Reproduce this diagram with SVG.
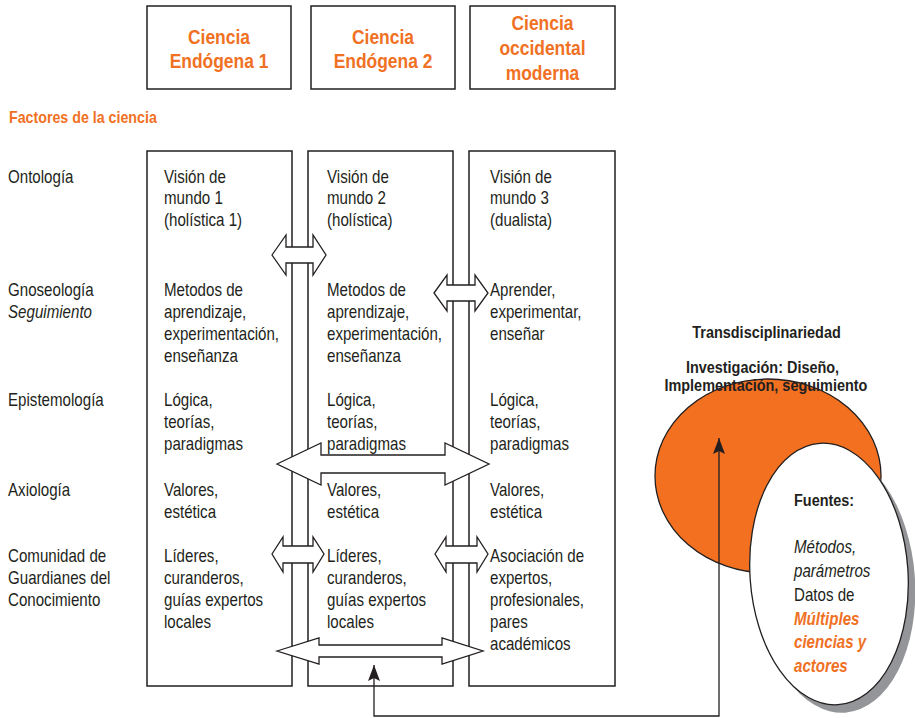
<svg xmlns="http://www.w3.org/2000/svg" width="915" height="718" viewBox="0 0 915 718">
  <defs>
    <style>
      .box { fill: #fff; stroke: #231f20; stroke-width: 1.5; }
      .t { font-family: "Liberation Sans", Arial, sans-serif; font-size: 18px; fill: #231f20; }
      .it { font-style: italic; }
      .hd { font-family: "Liberation Sans", Arial, sans-serif; font-size: 21px; font-weight: bold; fill: #f07124; text-anchor: middle; }
      .sec { font-family: "Liberation Sans", Arial, sans-serif; font-size: 16px; font-weight: bold; fill: #f07124; }
      .bd { font-family: "Liberation Sans", Arial, sans-serif; font-size: 17px; font-weight: bold; fill: #231f20; }
      .or { font-weight: bold; fill: #f07124; }
      .dbl { fill: #fff; stroke: #231f20; stroke-width: 1.3; stroke-linejoin: miter; }
      .link { fill: none; stroke: #231f20; stroke-width: 1.3; }
    </style>
    <marker id="ah" viewBox="0 0 16 12" refX="16" refY="6" markerWidth="16" markerHeight="12" markerUnits="userSpaceOnUse" orient="auto-start-reverse">
      <path d="M0,0 L16,6 L0,12 L3,6 Z" fill="#231f20"/>
    </marker>
  </defs>

  <rect width="915" height="718" fill="#fff"/>

  <!-- column headers -->
  <g id="header-endogena1">
    <rect class="box" x="147" y="6" width="144" height="83"/>
    <text class="hd" transform="translate(219,43.5) scale(.83,1)"><tspan x="0">Ciencia</tspan><tspan x="0" dy="25">Endógena 1</tspan></text>
  </g>
  <g id="header-endogena2">
    <rect class="box" x="311" y="6" width="144" height="83"/>
    <text class="hd" transform="translate(383,43.5) scale(.83,1)"><tspan x="0">Ciencia</tspan><tspan x="0" dy="25">Endógena 2</tspan></text>
  </g>
  <g id="header-occidental">
    <rect class="box" x="470" y="6" width="145" height="83"/>
    <text class="hd" transform="translate(542.5,29.5) scale(.83,1)"><tspan x="0">Ciencia</tspan><tspan x="0" dy="25.5">occidental</tspan><tspan x="0" dy="25.5">moderna</tspan></text>
  </g>

  <g id="factores-title">
    <text class="sec" transform="translate(9,123) scale(.89,1)">Factores de la ciencia</text>
  </g>

  <!-- row labels -->
  <g id="row-labels">
    <text class="t" transform="translate(8,183) scale(.84,1)">Ontología</text>
    <text class="t" transform="translate(8,296) scale(.84,1)"><tspan x="0">Gnoseología</tspan><tspan x="0" dy="22" class="it">Seguimiento</tspan></text>
    <text class="t" transform="translate(8,406) scale(.84,1)">Epistemología</text>
    <text class="t" transform="translate(8,496) scale(.84,1)">Axiología</text>
    <text class="t" transform="translate(8,562) scale(.84,1)"><tspan x="0">Comunidad de</tspan><tspan x="0" dy="22">Guardianes del</tspan><tspan x="0" dy="22">Conocimiento</tspan></text>
  </g>

  <!-- column 1 -->
  <g id="col-endogena1">
    <rect class="box" x="147" y="151" width="145" height="535"/>
    <text class="t" transform="translate(164,183) scale(.84,1)"><tspan x="0">Visión de</tspan><tspan x="0" dy="21.5">mundo 1</tspan><tspan x="0" dy="21.5">(holística 1)</tspan></text>
    <text class="t" transform="translate(164,296) scale(.84,1)"><tspan x="0">Metodos de</tspan><tspan x="0" dy="22">aprendizaje,</tspan><tspan x="0" dy="22">experimentación,</tspan><tspan x="0" dy="22">enseñanza</tspan></text>
    <text class="t" transform="translate(164,406) scale(.84,1)"><tspan x="0">Lógica,</tspan><tspan x="0" dy="22">teorías,</tspan><tspan x="0" dy="22">paradigmas</tspan></text>
    <text class="t" transform="translate(164,496) scale(.84,1)"><tspan x="0">Valores,</tspan><tspan x="0" dy="22">estética</tspan></text>
    <text class="t" transform="translate(164,562) scale(.84,1)"><tspan x="0">Líderes,</tspan><tspan x="0" dy="22">curanderos,</tspan><tspan x="0" dy="22">guías expertos</tspan><tspan x="0" dy="22">locales</tspan></text>
  </g>

  <!-- column 2 -->
  <g id="col-endogena2">
    <rect class="box" x="308" y="151" width="145" height="535"/>
    <text class="t" transform="translate(327,183) scale(.84,1)"><tspan x="0">Visión de</tspan><tspan x="0" dy="21.5">mundo 2</tspan><tspan x="0" dy="21.5">(holística)</tspan></text>
    <text class="t" transform="translate(327,296) scale(.84,1)"><tspan x="0">Metodos de</tspan><tspan x="0" dy="22">aprendizaje,</tspan><tspan x="0" dy="22">experimentación,</tspan><tspan x="0" dy="22">enseñanza</tspan></text>
    <text class="t" transform="translate(327,406) scale(.84,1)"><tspan x="0">Lógica,</tspan><tspan x="0" dy="22">teorías,</tspan><tspan x="0" dy="22">paradigmas</tspan></text>
    <text class="t" transform="translate(327,496) scale(.84,1)"><tspan x="0">Valores,</tspan><tspan x="0" dy="22">estética</tspan></text>
    <text class="t" transform="translate(327,562) scale(.84,1)"><tspan x="0">Líderes,</tspan><tspan x="0" dy="22">curanderos,</tspan><tspan x="0" dy="22">guías expertos</tspan><tspan x="0" dy="22">locales</tspan></text>
  </g>

  <!-- column 3 -->
  <g id="col-occidental">
    <rect class="box" x="469" y="151" width="146" height="535"/>
    <text class="t" transform="translate(490,183) scale(.84,1)"><tspan x="0">Visión de</tspan><tspan x="0" dy="21.5">mundo 3</tspan><tspan x="0" dy="21.5">(dualista)</tspan></text>
    <text class="t" transform="translate(490,296) scale(.84,1)"><tspan x="0">Aprender,</tspan><tspan x="0" dy="22">experimentar,</tspan><tspan x="0" dy="22">enseñar</tspan></text>
    <text class="t" transform="translate(490,406) scale(.84,1)"><tspan x="0">Lógica,</tspan><tspan x="0" dy="22">teorías,</tspan><tspan x="0" dy="22">paradigmas</tspan></text>
    <text class="t" transform="translate(490,496) scale(.84,1)"><tspan x="0">Valores,</tspan><tspan x="0" dy="22">estética</tspan></text>
    <text class="t" transform="translate(490,562) scale(.84,1)"><tspan x="0">Asociación de</tspan><tspan x="0" dy="22">expertos,</tspan><tspan x="0" dy="22">profesionales,</tspan><tspan x="0" dy="22">pares</tspan><tspan x="0" dy="22">académicos</tspan></text>
  </g>

  <!-- research circle -->
  <g id="investigacion">
    <ellipse cx="768" cy="476" rx="113" ry="97" fill="#f37021" stroke="#231f20" stroke-width="1.3"/>
  </g>

  <!-- sources ellipse -->
  <g id="fuentes">
    <ellipse cx="836" cy="582" rx="79" ry="131" fill="#939598" transform="rotate(-4 836 582)"/>
    <ellipse cx="829" cy="574" rx="79" ry="131" fill="#fff" stroke="#231f20" stroke-width="1.3" transform="rotate(-4 829 574)"/>
    <text class="bd" transform="translate(794,506) scale(.85,1)">Fuentes:</text>
    <text class="t" transform="translate(794,553) scale(.84,1)"><tspan x="0" class="it">Métodos,</tspan><tspan x="0" dy="24" class="it">parámetros</tspan><tspan x="0" dy="24">Datos de</tspan><tspan x="0" dy="24" class="it or">Múltiples</tspan><tspan x="0" dy="23.5" class="it or">ciencias y</tspan><tspan x="0" dy="23.5" class="it or">actores</tspan></text>
  </g>

  <!-- connectors -->
  <g id="connectors">
    <polygon class="dbl" points="272,255 286,235 286,247 313,247 313,235 326,255 313,275 313,263 286,263 286,275"/>
    <polygon class="dbl" points="434,293 447,275 447,285 475,285 475,275 488,293 475,311 475,301 447,301 447,311"/>
    <polygon class="dbl" points="277,464 321,443 321,455 445,455 445,443 489,464 445,485 445,473 321,473 321,485"/>
    <polygon class="dbl" points="272,554 283,537 283,546 313,546 313,537 324,554 313,572 313,563 283,563 283,572"/>
    <polygon class="dbl" points="435,554 446,537 446,546 477,546 477,537 488,554 477,572 477,563 446,563 446,572"/>
    <polygon class="dbl" points="277,651 319,638 319,645 442,645 442,638 483,651 442,664 442,657 319,657 319,664"/>
    <path class="link" d="M374,665 V716 H719 V438" marker-start="url(#ah)" marker-end="url(#ah)"/>
  </g>

  <g id="transdisciplinariedad">
    <text class="bd" text-anchor="middle" transform="translate(766.5,338) scale(.85,1)">Transdisciplinariedad</text>
    <text class="bd" text-anchor="middle" transform="translate(762.5,373) scale(.85,1)"><tspan x="0">Investigación: Diseño,</tspan><tspan x="4" dy="18">Implementación, seguimiento</tspan></text>
  </g>
</svg>
